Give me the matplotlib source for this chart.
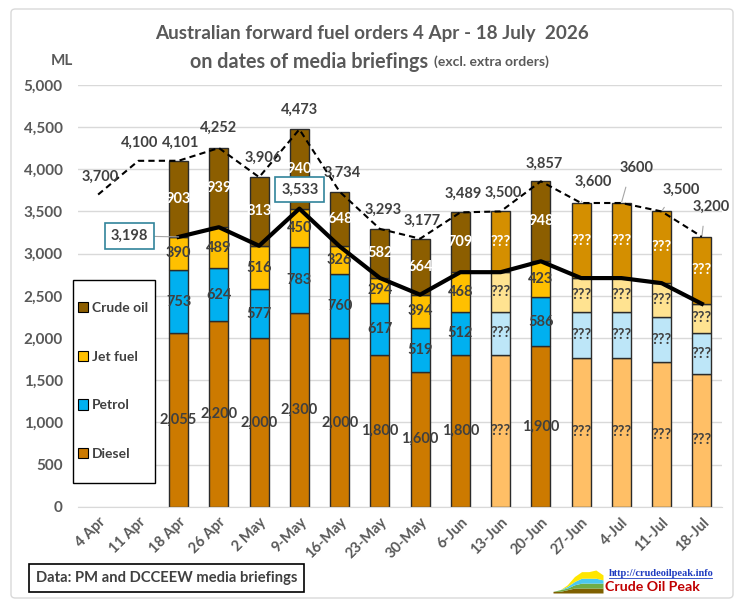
import numpy as np
import matplotlib.pyplot as plt
from matplotlib import font_manager
from matplotlib.patches import Patch, FancyBboxPatch, Rectangle
from matplotlib.lines import Line2D

# dates of the media briefings
dates = ['4 Apr', '11 Apr', '18 Apr', '26 Apr', '2 May', '9-May', '16-May', '23-May',
         '30-May', '6-Jun', '13-Jun', '20-Jun', '27-Jun', '4-Jul', '11-Jul', '18-Jul']

# forward orders by fuel (ML); first two briefings gave only totals
diesel = [np.nan, np.nan, 2055, 2200, 2000, 2300, 2000, 1800, 1600, 1800, 1800, 1900, 1760, 1760, 1710, 1570]
petrol = [np.nan, np.nan, 753, 624, 577, 783, 760, 617, 519, 512, 512, 586, 550, 550, 540, 490]
jet_fuel = [np.nan, np.nan, 390, 489, 516, 450, 326, 294, 394, 468, 468, 423, 400, 400, 400, 345]
crude = [np.nan, np.nan, 903, 939, 813, 940, 648, 582, 664, 709, 720, 948, 890, 890, 850, 795]
totals = [3700, 4100, 4101, 4252, 3906, 4473, 3734, 3293, 3177, 3489, 3500, 3857, 3600, 3600, 3500, 3200]
total_labels = ['3,700', '4,100', '4,101', '4,252', '3,906', '4,473', '3,734', '3,293', '3,177',
                '3,489', '3,500', '3,857', '3,600', '3600', '3,500', '3,200']
# split not published -> "???"
estimated = [False] * 10 + [True, False, True, True, True, True]

names = {f.name for f in font_manager.fontManager.ttflist}
FONT = 'Liberation Sans Narrow' if 'Liberation Sans Narrow' in names else 'Lato'
plt.rcParams['font.family'] = [FONT, 'DejaVu Sans']
plt.rcParams['font.weight'] = 'bold'

DARK = '#404040'
GREY = '#595959'
colors = {'Diesel': ('#CC7A00', '#FFBF66'),
          'Petrol': ('#00B0F0', '#BDE6F8'),
          'Jet fuel': ('#FFC000', '#FFE391'),
          'Crude oil': ('#8C5E00', '#D48F00')}

PX = 0.72  # points per pixel at dpi 100

fig = plt.figure(figsize=(7.42, 6.06), dpi=100)
ax = fig.add_axes([78 / 742, 1 - 506.7 / 606, 644 / 742, 421.8 / 606])

x = np.arange(len(dates))
layers = [('Diesel', diesel), ('Petrol', petrol), ('Jet fuel', jet_fuel), ('Crude oil', crude)]
bottom = np.zeros(len(dates))
for name, vals in layers:
    vals = np.array(vals, dtype=float)
    for i in range(len(dates)):
        if np.isnan(vals[i]):
            continue
        c = colors[name][1] if estimated[i] else colors[name][0]
        ax.bar(x[i], vals[i], 0.47, bottom=bottom[i], color=c, edgecolor='#2b2b2b', lw=1, zorder=2)
        if estimated[i]:
            txt = '???'
        else:
            txt = f'{int(vals[i]):,}'
        tc = 'white' if name == 'Crude oil' else DARK
        ax.text(x[i], bottom[i] + vals[i] / 2, txt, ha='center', va='center', fontsize=10.5,
                color=tc, fontweight='bold', zorder=5)
    bottom = bottom + np.nan_to_num(vals)

# refined products line (diesel + petrol + jet fuel)
refined = np.array(diesel) + np.array(petrol) + np.array(jet_fuel)
ax.plot(x[2:], refined[2:], color='black', lw=3, zorder=6)

# total orders line
ax.plot(x, totals, color='black', lw=1.5, ls=(0, (3, 2)), zorder=6)

offsets = [(2, 18), (1, 18), (1.5, 18), (0, 20), (4, 19), (0, 20), (3, 19), (3, 19),
           (2, 18), (3, 19), (3, 18.5), (3, 18), (12, 21), (15, 35), (20, 22), (9, 30)]
for i, lab in enumerate(total_labels):
    dx, dy = offsets[i]
    if i >= 12:
        ax.annotate(lab, (x[i], totals[i]), xytext=(dx * PX, dy * PX), textcoords='offset points',
                    ha='center', va='center', fontsize=10.5, color=DARK, zorder=7,
                    arrowprops=dict(arrowstyle='-', color='#A6A6A6', lw=0.8, shrinkA=7, shrinkB=1,
                                    relpos=(0.35, 0.5)))
    else:
        ax.annotate(lab, (x[i], totals[i]), xytext=(dx * PX, dy * PX), textcoords='offset points',
                    ha='center', va='center', fontsize=10.5, color=DARK, zorder=7)

box = dict(boxstyle='square,pad=0.4', fc='white', ec='#31849B', lw=1.2)
ax.annotate(f'{int(refined[2]):,}', (x[2], refined[2]), xytext=(-49 * PX, 1 * PX),
            textcoords='offset points', ha='center', va='center', fontsize=10.5, color=DARK,
            bbox=box, zorder=8,
            arrowprops=dict(arrowstyle='-', color='#A6A6A6', lw=0.8, shrinkA=0, shrinkB=0))
ax.annotate(f'{int(refined[5]):,}', (x[5], refined[5]), xytext=(0.5 * PX, 19 * PX),
            textcoords='offset points', ha='center', va='center', fontsize=10.5, color=DARK,
            bbox=box, zorder=8)

ax.set_xlim(-0.5, len(dates) - 0.5)
ax.set_ylim(0, 5000)
ax.set_yticks(np.arange(0, 5001, 500))
ax.set_yticklabels([f'{v:,}' for v in range(0, 5001, 500)], fontsize=11, color=GREY)
ax.set_xticks(x)
ax.set_xticklabels(dates, rotation=45, ha='right', rotation_mode='anchor', fontsize=10.5, color=GREY)
ax.tick_params(axis='y', length=0, pad=11)
ax.tick_params(axis='x', length=0, pad=6)
ax.grid(axis='y', color='#D9D9D9', lw=1, zorder=0)
ax.set_axisbelow(True)
for s in ['top', 'right', 'left']:
    ax.spines[s].set_visible(False)
ax.spines['bottom'].set_color('#D9D9D9')

# legend: own frame, entries spread out like the Excel legend
fig.add_artist(Rectangle((73 / 742, 1 - 483 / 606), 82 / 742, 203 / 606, fc='white', ec='black',
                         lw=1, transform=fig.transFigure, zorder=3))
handles = [Patch(fc=colors[n][0], ec='black', lw=0.8, label=n) for n in ['Crude oil', 'Jet fuel', 'Petrol', 'Diesel']]
leg = fig.legend(handles=handles, loc='center', bbox_to_anchor=(113 / 742, 1 - 381 / 606),
                 fontsize=10, labelspacing=2.65, handlelength=0.75, handleheight=0.75,
                 handletextpad=0.3, borderpad=0, borderaxespad=0, frameon=False)
leg.set_zorder(4)
for t in leg.get_texts():
    t.set_color(DARK)

fig.text(372 / 742, 1 - 33 / 606, 'Australian forward fuel orders 4 Apr - 18 July  2026',
         ha='center', va='center', fontsize=13.6, color=GREY)
fig.text(190 / 742, 1 - 62 / 606, 'on dates of media briefings', ha='left', va='center',
         fontsize=14.2, color=GREY)
fig.text(434 / 742, 1 - 62 / 606, '(excl. extra orders)', ha='left', va='center',
         fontsize=10, color=GREY)
fig.text(62 / 742, 1 - 61 / 606, 'ML', ha='center', va='center', fontsize=11, color=GREY)

fig.text(36 / 742, 1 - 578 / 606, 'Data: PM and DCCEEW media briefings', ha='left', va='center',
         fontsize=10.6, color=DARK,
         bbox=dict(boxstyle='square,pad=0.45', fc='white', ec='black', lw=1.2))

# logo
logo = fig.add_axes([553 / 742, 1 - 593 / 606, 50 / 742, 23 / 606])
lx = np.arange(8)
logo_layers = [[1, 1, 2, 3, 3, 3, 3, 3], [0, 1, 1, 2, 3, 3, 3, 3],
               [0, 0, 1, 2, 3, 3, 3, 2], [0, 0, 1, 3, 4, 4, 5, 3]]
logo_cols = ['#7F6000', '#70AD47', '#4BC8F0', '#FFE600']
base = np.zeros(8)
for lv, lc in zip(logo_layers, logo_cols):
    logo.fill_between(lx, base, base + lv, color=lc, lw=0)
    base = base + lv
logo.set_xlim(0, 7)
logo.set_ylim(0, 14)
logo.axis('off')
fig.text(609 / 742, 1 - 573 / 606, 'http://crudeoilpeak.info', ha='left', va='center',
         fontsize=7.5, color='#1F3CC0', family='Liberation Serif', fontweight='bold')
fig.add_artist(Line2D([609 / 742, 712 / 742], [1 - 578 / 606, 1 - 578 / 606], color='#1F3CC0', lw=0.6))
fig.text(605 / 742, 1 - 587 / 606, 'Crude Oil Peak', ha='left', va='center', fontsize=10.2,
         color='#C00000')

fig.add_artist(FancyBboxPatch((11 / 742, 1 - 598 / 606), 722 / 742, 589 / 606,
                              boxstyle='round,pad=0,rounding_size=0.006', fc='none',
                              ec='#D9D9D9', lw=1, transform=fig.transFigure))

fig.savefig('out.png', dpi=100)
